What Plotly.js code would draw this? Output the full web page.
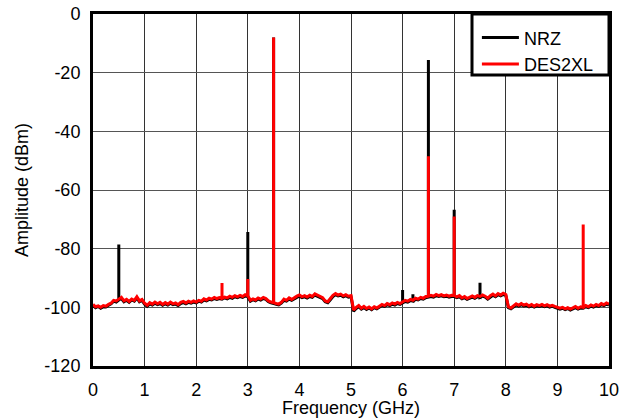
<!DOCTYPE html>
<html>
<head>
<meta charset="utf-8">
<script src="https://cdn.plot.ly/plotly-3.0.1.min.js"></script>
<style>html,body{margin:0;padding:0;background:#fff;}#chart{width:627px;height:418px;}</style>
</head>
<body>
<div id="chart"></div>
<script>
// Noise-floor sampling grid: 0 to 10 GHz, 0.05 GHz step (201 samples)
var freqStart = 0, freqStepHundredths = 5, freqCount = 201;

// NRZ noise floor (dBm), one value per 0.05 GHz
var nrzFloor = [
  -99.4, -100.1, -99.7, -100.3, -99.8, -99.9, -99.3, -98.8, -97.9, -98.2,
  -97.5, -97.0, -98.1, -97.6, -98.3, -97.5, -97.9, -96.8, -98.1, -97.6,
  -98.9, -99.6, -98.8, -99.2, -98.6, -99.1, -98.7, -99.3, -98.8, -99.2,
  -98.6, -99.1, -98.9, -99.4, -98.7, -98.4, -98.8, -98.3, -98.6, -98.2,
  -98.5, -97.9, -98.2, -97.5, -97.8, -97.3, -97.5, -97.0, -97.3, -97.0,
  -97.2, -96.8, -97.1, -96.6, -96.9, -96.4, -96.7, -96.3, -96.6, -96.1,
  -96.4, -97.9, -97.4, -97.8, -97.2, -97.5, -97.0, -97.3, -98.1, -98.5,
  -98.7, -99.0, -99.2, -98.6, -97.6, -97.9, -97.2, -97.6, -97.0, -96.6,
  -96.2, -96.7, -96.4, -96.8, -96.3, -96.6, -95.8, -96.2, -96.5, -97.0,
  -98.1, -98.4, -97.4, -96.3, -95.7, -96.1, -95.9, -96.4, -96.0, -96.5,
  -96.3, -101.3, -100.4, -99.8, -100.6, -100.1, -100.7, -100.2, -100.8, -100.1,
  -100.5, -99.8, -99.4, -99.7, -99.1, -99.4, -98.9, -99.2, -98.7, -99.0,
  -98.5, -98.0, -98.2, -97.7, -97.9, -97.3, -97.5, -97.0, -97.2, -96.7,
  -96.5, -96.3, -96.5, -96.0, -96.3, -96.1, -96.4, -96.2, -96.5, -96.3,
  -96.3, -96.7, -96.4, -97.1, -96.7, -97.3, -96.8, -96.5, -96.9, -96.4,
  -96.6, -96.2, -96.5, -97.2, -96.4, -95.9, -96.4, -95.7, -96.1, -95.6,
  -95.9, -100.1, -100.5, -99.8, -99.2, -99.6, -99.1, -99.5, -99.3, -99.8,
  -99.4, -99.9, -99.5, -99.7, -99.4, -99.8, -99.5, -99.9, -99.6, -100.0,
  -100.2, -100.6, -100.3, -100.8, -100.4, -100.9, -100.5, -100.1, -100.6, -100.2,
  -100.3, -99.8, -100.1, -99.6, -99.9, -99.4, -99.7, -99.1, -99.4, -98.9,
  -99.2
];

// DES2XL noise floor (dBm), one value per 0.05 GHz
var desFloor = [
  -99.0, -99.8, -99.5, -100.0, -99.4, -99.6, -99.0, -98.6, -97.6, -97.8,
  -97.2, -96.6, -97.8, -97.3, -98.0, -97.2, -97.6, -96.4, -97.8, -97.3,
  -98.6, -99.3, -98.4, -98.9, -98.2, -98.8, -98.3, -99.0, -98.4, -98.9,
  -98.2, -98.8, -98.5, -99.1, -98.3, -98.0, -98.5, -97.9, -98.3, -97.8,
  -98.2, -97.6, -97.9, -97.1, -97.5, -96.9, -97.2, -96.6, -97.0, -96.7,
  -96.9, -96.5, -96.8, -96.2, -96.6, -96.0, -96.4, -95.9, -96.3, -95.7,
  -96.0, -97.6, -97.1, -97.5, -96.8, -97.2, -96.6, -97.0, -97.8, -98.2,
  -98.4, -98.7, -98.9, -98.3, -97.2, -97.6, -96.8, -97.3, -96.6, -96.2,
  -95.8, -96.4, -96.0, -96.5, -95.9, -96.3, -95.4, -95.9, -96.2, -96.7,
  -97.8, -98.1, -97.0, -95.9, -95.3, -95.8, -95.5, -96.1, -95.7, -96.2,
  -96.0, -100.9, -100.0, -99.4, -100.3, -99.7, -100.4, -99.9, -100.5, -99.8,
  -100.2, -99.5, -99.0, -99.4, -98.7, -99.1, -98.5, -98.9, -98.3, -98.7,
  -98.2, -97.6, -97.9, -97.3, -97.6, -96.9, -97.2, -96.6, -96.9, -96.3,
  -96.2, -95.9, -96.2, -95.6, -96.0, -95.7, -96.1, -95.8, -96.2, -95.9,
  -96.0, -96.4, -96.0, -96.8, -96.3, -97.0, -96.5, -96.1, -96.6, -96.0,
  -96.3, -95.8, -96.2, -96.9, -96.0, -95.5, -96.1, -95.3, -95.8, -95.2,
  -95.6, -99.8, -100.2, -99.4, -98.8, -99.3, -98.7, -99.2, -98.9, -99.5,
  -99.0, -99.6, -99.1, -99.4, -99.0, -99.5, -99.1, -99.6, -99.3, -99.7,
  -99.9, -100.3, -100.0, -100.5, -100.1, -100.6, -100.2, -99.7, -100.3, -99.8,
  -100.0, -99.4, -99.8, -99.2, -99.6, -99.0, -99.4, -98.7, -99.1, -98.5,
  -98.9
];

// Spurs / tones (GHz, dBm)
var nrzSpikeFreq = [0.5, 3.0, 3.5, 6.0, 6.2, 6.5, 7.0, 7.5];
var nrzSpikeAmp  = [-78.6, -74.3, -8.0, -94.1, -95.5, -15.7, -66.7, -91.6];
var desSpikeFreq = [2.5, 3.0, 3.5, 6.5, 7.0, 9.5];
var desSpikeAmp  = [-91.7, -90.3, -8.0, -48.5, -69.0, -71.8];

var seriesNames = ['NRZ', 'DES2XL'];
var xTickVals = [0,1,2,3,4,5,6,7,8,9,10];
var yTickVals = [0,-20,-40,-60,-80,-100,-120];

function buildTrace(floor, sf, sa) {
  var x = [], y = [];
  for (var i = 0; i < freqCount; i++) {
    var f = (freqStart * 100 + i * freqStepHundredths) / 100;
    x.push(f); y.push(floor[i]);
    for (var k = 0; k < sf.length; k++) {
      if (Math.abs(sf[k] - f) < 1e-6) {
        x.push(f); y.push(sa[k]);
        x.push(f); y.push(floor[i]);
      }
    }
  }
  return {x: x, y: y};
}

var n = buildTrace(nrzFloor, nrzSpikeFreq, nrzSpikeAmp);
var d = buildTrace(desFloor, desSpikeFreq, desSpikeAmp);

var FONT = 'Arial, "Liberation Sans", sans-serif';

var traces = [
  {x: n.x, y: n.y, type: 'scatter', mode: 'lines', name: seriesNames[0],
   line: {color: '#000000', width: 3}},
  {x: d.x, y: d.y, type: 'scatter', mode: 'lines', name: seriesNames[1],
   line: {color: '#ff0000', width: 3}}
];

var layout = {
  width: 627, height: 418,
  margin: {l: 93, r: 18, t: 14, b: 52, pad: 0},
  paper_bgcolor: '#ffffff', plot_bgcolor: '#ffffff',
  font: {family: FONT, size: 18, color: '#000'},
  showlegend: true,
  legend: {x: 0.744, y: 0.985, xanchor: 'left', yanchor: 'top',
           bgcolor: 'rgba(0,0,0,0)', borderwidth: 0, itemwidth: 37,
           font: {family: FONT, size: 18, color: '#000'}, tracegroupgap: 0},
  xaxis: {range: [0, 10], tickvals: xTickVals, ticktext: xTickVals.map(String),
          showgrid: true, gridcolor: '#333', gridwidth: 1, zeroline: false,
          showline: true, linecolor: '#000', linewidth: 3, mirror: true,
          ticks: 'outside', ticklen: 5, tickcolor: 'rgba(0,0,0,0)',
          tickfont: {family: FONT, size: 18, color: '#000'},
          title: {text: 'Frequency (GHz)', font: {family: FONT, size: 18, color: '#000'}, standoff: 0}},
  yaxis: {range: [-120, 0], tickvals: yTickVals, ticktext: yTickVals.map(String),
          showgrid: true, gridcolor: '#555', gridwidth: 1, zeroline: false,
          showline: true, linecolor: '#000', linewidth: 3, mirror: true,
          ticks: 'outside', ticklen: 6, tickcolor: 'rgba(0,0,0,0)',
          tickfont: {family: FONT, size: 18, color: '#000'},
          title: {text: 'Amplitude (dBm)', font: {family: FONT, size: 18, color: '#000'}, standoff: 12}},
  shapes: [{type: 'rect', xref: 'paper', yref: 'paper', x0: 0.7345, x1: 1, y0: 0.8267, y1: 1,
            line: {color: '#000', width: 3}, fillcolor: '#ffffff', layer: 'above'}]
};

Plotly.newPlot('chart', traces, layout, {displayModeBar: false, staticPlot: true});
</script>
</body>
</html>
